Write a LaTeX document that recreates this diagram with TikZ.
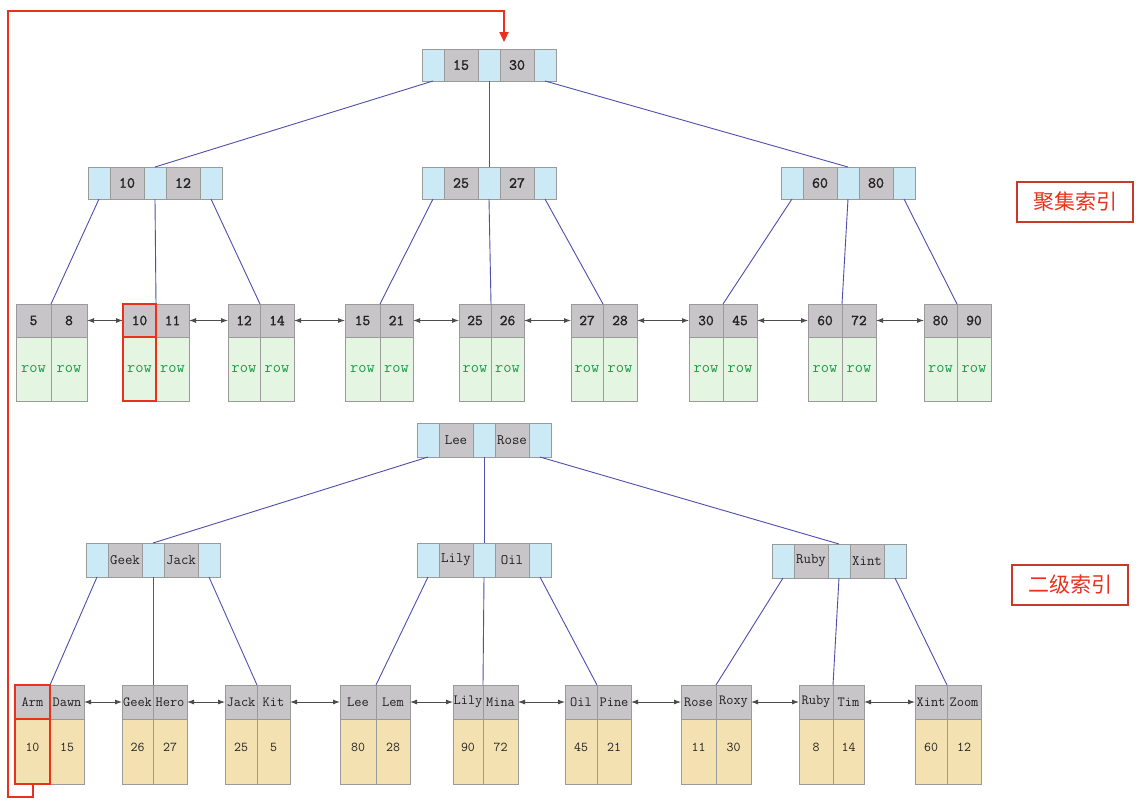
\documentclass[tikz,border=0pt]{standalone}
\usepackage{fontspec}
\newfontfamily\cjk{Noto Sans CJK SC}
\newfontfamily\bmono[FakeBold=1.6]{Latin Modern Mono}
\usetikzlibrary{arrows.meta,fit}
\definecolor{cgray}{HTML}{C7C5C7}
\definecolor{cblue}{HTML}{CCE9F6}
\definecolor{cgreen}{HTML}{E4F6E1}
\definecolor{ctan}{HTML}{F3E1B2}
\definecolor{cborder}{HTML}{9A9A9A}
\definecolor{cedge}{HTML}{4E4EAE}
\definecolor{cred}{HTML}{E8321E}
\definecolor{cboxred}{HTML}{C9392A}
\definecolor{crow}{HTML}{1E9A4E}
\definecolor{ctext}{HTML}{222222}
% internal node: name, x, y, key1, key2
\newcommand\inode[5]{%
  \node[bcell,anchor=north west] (#1a) at (#2,#3) {};
  \node[gcell,anchor=north west] (#1k1) at (#1a.north east) {#4};
  \node[bcell,anchor=north west] (#1b) at (#1k1.north east) {};
  \node[gcell,anchor=north west] (#1k2) at (#1b.north east) {#5};
  \node[bcell,anchor=north west] (#1c) at (#1k2.north east) {};
}
% leaf: name, x, y, w1, w2, key1, key2, val1, val2
\newcommand\leaf[9]{%
  \node[kcell,anchor=north west,minimum width=#4] (#1k1) at (#2,#3) {#6};
  \node[kcell,anchor=north west,minimum width=#5] (#1k2) at (#1k1.north east) {#7};
  \node[vcell,anchor=north west,minimum width=#4] (#1v1) at (#1k1.south west) {#8};
  \node[vcell,anchor=north west,minimum width=#5] (#1v2) at (#1k2.south west) {#9};
}
\begin{document}
\begin{tikzpicture}[x=1pt,y=-1pt,
  cellbase/.style={draw=cborder,line width=0.8pt,inner sep=0pt,outer sep=0pt,text=ctext},
  ihgt/.style={minimum height=32},
  ifont/.style={font=\bmono\fontsize{15.5}{15.5}\selectfont},
  khgt/.style={minimum height=33},
  kfont/.style={font=\bmono\fontsize{15}{15}\selectfont},
  vstyle/.style={minimum height=64,fill=cgreen,text=crow,font=\ttfamily\fontsize{16}{16}\selectfont},
  bcell/.style={cellbase,fill=cblue,minimum width=22,ihgt},
  gcell/.style={cellbase,fill=cgray,minimum width=34,ihgt,ifont},
  kcell/.style={cellbase,fill=cgray,khgt,kfont},
  vcell/.style={cellbase,vstyle},
  treeline/.style={draw=cedge,line width=0.9pt},
  leaflink/.style={draw=black!70,line width=0.9pt,{Latex[length=7pt,width=5pt]}-{Latex[length=7pt,width=5pt]}},
  redbox/.style={draw=cred,line width=2pt,inner sep=0pt},
  redline/.style={draw=cred,line width=2pt},
  idxlabel/.style={draw=cboxred,line width=1.2pt,text=cred,font=\cjk\fontsize{21}{21}\selectfont,minimum width=116,minimum height=40,inner sep=0pt},
]
\useasboundingbox (0,0) rectangle (1141,801);
\fill[white] (0,0) rectangle (1141,801);

% ---------- clustered index ----------
\inode{t}{422}{49}{15}{30}
\inode{m1}{88}{167}{10}{12}
\inode{m2}{422}{167}{25}{27}
\inode{m3}{781}{167}{60}{80}

\leaf{l1}{16}{304}{35}{36}{5}{8}{row}{row}
\leaf{l2}{123}{304}{33}{33}{10}{11}{row}{row}
\leaf{l3}{228}{304}{32}{34}{12}{14}{row}{row}
\leaf{l4}{345}{304}{35}{33}{15}{21}{row}{row}
\leaf{l5}{459}{304}{32}{33}{25}{26}{row}{row}
\leaf{l6}{571}{304}{32}{34}{27}{28}{row}{row}
\leaf{l7}{689}{304}{34}{34}{30}{45}{row}{row}
\leaf{l8}{808}{304}{34}{34}{60}{72}{row}{row}
\leaf{l9}{924}{304}{33}{34}{80}{90}{row}{row}

\draw[treeline] (ta.south) -- (m1b.north);
\draw[treeline] (tb.south) -- (m2b.north);
\draw[treeline] (tc.south) -- (m3b.north);
\draw[treeline] (m1a.south) -- (l1k1.north east);
\draw[treeline] (m1b.south) -- (l2k1.north east);
\draw[treeline] (m1c.south) -- (l3k1.north east);
\draw[treeline] (m2a.south) -- (l4k1.north east);
\draw[treeline] (m2b.south) -- (l5k1.north east);
\draw[treeline] (m2c.south) -- (l6k1.north east);
\draw[treeline] (m3a.south) -- (l7k1.north east);
\draw[treeline] (m3b.south) -- (l8k1.north east);
\draw[treeline] (m3c.south) -- (l9k1.north east);

\draw[leaflink] (l1k2.east) -- (l2k1.west);
\draw[leaflink] (l2k2.east) -- (l3k1.west);
\draw[leaflink] (l3k2.east) -- (l4k1.west);
\draw[leaflink] (l4k2.east) -- (l5k1.west);
\draw[leaflink] (l5k2.east) -- (l6k1.west);
\draw[leaflink] (l6k2.east) -- (l7k1.west);
\draw[leaflink] (l7k2.east) -- (l8k1.west);
\draw[leaflink] (l8k2.east) -- (l9k1.west);

% ---------- secondary index ----------
\tikzset{
  ihgt/.style={minimum height=34},
  ifont/.style={font=\ttfamily\fontsize{14.5}{14.5}\selectfont},
  khgt/.style={minimum height=34},
  kfont/.style={font=\ttfamily\fontsize{14}{14}\selectfont},
  vstyle/.style={minimum height=65,fill=ctan,text=ctext,text height=8pt,text depth=8pt,font=\ttfamily\fontsize{13.5}{13.5}\selectfont},
}
\inode{u}{417}{423}{Lee}{Rose}
\inode{n1}{86}{543}{Geek}{Jack}
\inode{n2}{417}{543}{Lily}{Oil}
\inode{n3}{772}{544}{Ruby}{Xint}

\leaf{s1}{15}{685}{35}{34}{Arm}{Dawn}{10}{15}
\leaf{s2}{122}{685}{31}{34}{Geek}{Hero}{26}{27}
\leaf{s3}{225}{685}{32}{33}{Jack}{Kit}{25}{5}
\leaf{s4}{340}{685}{36}{34}{Lee}{Lem}{80}{28}
\leaf{s5}{453}{685}{30}{35}{Lily}{Mina}{90}{72}
\leaf{s6}{565}{685}{32}{34}{Oil}{Pine}{45}{21}
\leaf{s7}{681}{685}{35}{35}{Rose}{Roxy}{11}{30}
\leaf{s8}{799}{685}{34}{31}{Ruby}{Tim}{8}{14}
\leaf{s9}{915}{685}{32}{34}{Xint}{Zoom}{60}{12}

\draw[treeline] (ua.south) -- (n1b.north);
\draw[treeline] (ub.south) -- (n2b.north);
\draw[treeline] (uc.south) -- (n3b.north);
\draw[treeline] (n1a.south) -- (s1k1.north east);
\draw[treeline] (n1b.south) -- (s2k1.north east);
\draw[treeline] (n1c.south) -- (s3k1.north east);
\draw[treeline] (n2a.south) -- (s4k1.north east);
\draw[treeline] (n2b.south) -- (s5k1.north east);
\draw[treeline] (n2c.south) -- (s6k1.north east);
\draw[treeline] (n3a.south) -- (s7k1.north east);
\draw[treeline] (n3b.south) -- (s8k1.north east);
\draw[treeline] (n3c.south) -- (s9k1.north east);

\draw[leaflink] (s1k2.east) -- (s2k1.west);
\draw[leaflink] (s2k2.east) -- (s3k1.west);
\draw[leaflink] (s3k2.east) -- (s4k1.west);
\draw[leaflink] (s4k2.east) -- (s5k1.west);
\draw[leaflink] (s5k2.east) -- (s6k1.west);
\draw[leaflink] (s6k2.east) -- (s7k1.west);
\draw[leaflink] (s7k2.east) -- (s8k1.west);
\draw[leaflink] (s8k2.east) -- (s9k1.west);

% ---------- red annotations ----------
\node[redbox,fit=(l2k1)] (r1) {};
\node[redbox,fit=(l2v1)] (r2) {};
\node[redbox,fit=(s1k1)] (r3) {};
\node[redbox,fit=(s1v1)] (r4) {};
\coordinate (c1) at (8,797);
\coordinate (c2) at (8,11);
\coordinate (c3) at (504,11);
\coordinate (c4) at (504,42);
\draw[redline,-{Triangle[length=10pt,width=9pt]}] (r4.south) |- (c1) -- (c2) -- (c3) -- (c4);

% ---------- labels ----------
\node[idxlabel] (lab1) at (1075,202) {聚集索引};
\node[idxlabel] (lab2) at (1070,585) {二级索引};
\end{tikzpicture}
\end{document}
